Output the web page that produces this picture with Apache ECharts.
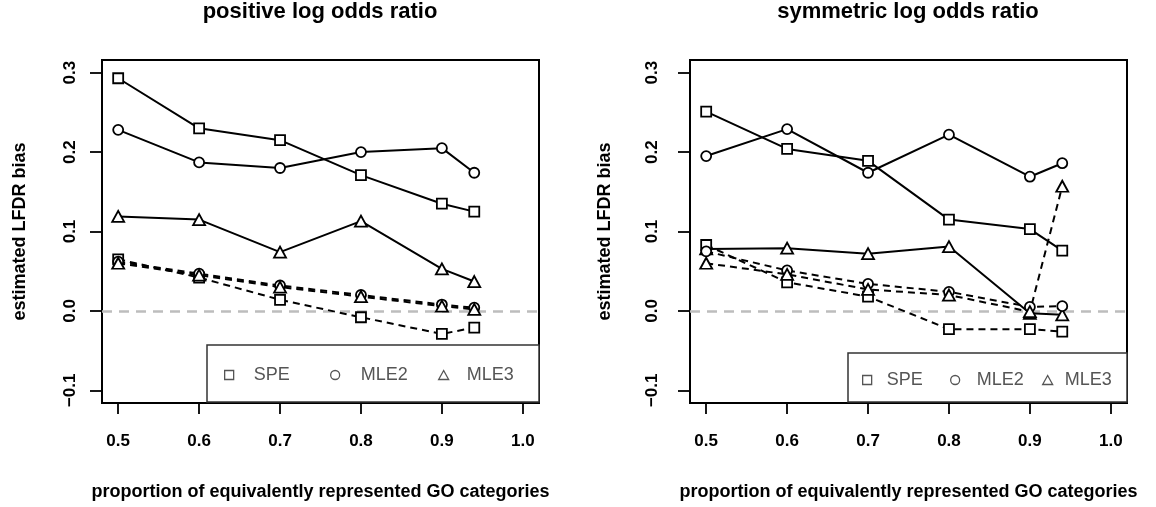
<!DOCTYPE html>
<html>
<head>
<meta charset="utf-8">
<script src="https://cdn.jsdelivr.net/npm/echarts@6/dist/echarts.min.js"></script>
<style>
html,body{margin:0;padding:0;background:#fff;}
#chart{width:1156px;height:507px;}
</style>
</head>
<body>
<div id="chart"></div>
<script>
// ---- data ----
const xValues = [0.5, 0.6, 0.7, 0.8, 0.9, 0.94];
const xTicks = [0.5, 0.6, 0.7, 0.8, 0.9, 1.0];
const yTicks = [-0.1, 0.0, 0.1, 0.2, 0.3];
const refLine = [0];
const seriesNames = ['SPE', 'MLE2', 'MLE3'];
const panelTitles = ['positive log odds ratio', 'symmetric log odds ratio'];
const xTitle = 'proportion of equivalently represented GO categories';
const yTitle = 'estimated LFDR bias';

// left panel: positive log odds ratio
const posSPE_solid  = [0.293, 0.230, 0.215, 0.171, 0.135, 0.125];
const posMLE2_solid = [0.228, 0.187, 0.180, 0.200, 0.205, 0.174];
const posMLE3_solid = [0.119, 0.115, 0.074, 0.113, 0.053, 0.037];
const posSPE_dash   = [0.065, 0.042, 0.014, -0.008, -0.029, -0.021];
const posMLE2_dash  = [0.062, 0.047, 0.032, 0.020, 0.008, 0.004];
const posMLE3_dash  = [0.060, 0.045, 0.030, 0.018, 0.006, 0.002];

// right panel: symmetric log odds ratio
const symSPE_solid  = [0.251, 0.204, 0.189, 0.115, 0.103, 0.076];
const symMLE2_solid = [0.195, 0.229, 0.174, 0.222, 0.169, 0.186];
const symMLE3_solid = [0.078, 0.079, 0.072, 0.081, -0.003, -0.005];
const symSPE_dash   = [0.083, 0.036, 0.018, -0.023, -0.023, -0.026];
const symMLE2_dash  = [0.075, 0.051, 0.034, 0.024, 0.005, 0.006];
const symMLE3_dash  = [0.060, 0.046, 0.027, 0.020, -0.001, 0.157];

// ---- styling / building ----
const FONT = 'Liberation Sans';
const symbolFor = { SPE: 'rect', MLE2: 'circle', MLE3: 'triangle' };
const symbolSizeFor = { SPE: 10, MLE2: 10, MLE3: [12, 11] };

function pairs(ys) { return xValues.map((x, i) => [x, ys[i]]); }

function makeSeries(name, ys, dashed, idx, withRef) {
  const s = {
    name: name,
    type: 'line',
    xAxisIndex: idx,
    yAxisIndex: idx,
    data: pairs(ys),
    symbol: symbolFor[name],
    symbolSize: symbolSizeFor[name],
    showAllSymbol: true,
    lineStyle: { color: '#000', width: 2, type: dashed ? [7, 5] : 'solid' },
    itemStyle: { color: '#fff', borderColor: '#000', borderWidth: 1.8 },
    emphasis: { disabled: true },
    animation: false,
    z: 3
  };
  if (withRef) {
    s.markLine = {
      silent: true,
      symbol: ['none', 'none'],
      label: { show: false },
      lineStyle: { color: '#bdbdbd', width: 2.5, type: [10, 7] },
      data: refLine.map(v => ({ yAxis: v })),
      z: 2
    };
  }
  return s;
}

const panels = [
  { solid: [posSPE_solid, posMLE2_solid, posMLE3_solid], dash: [posSPE_dash, posMLE2_dash, posMLE3_dash] },
  { solid: [symSPE_solid, symMLE2_solid, symMLE3_solid], dash: [symSPE_dash, symMLE2_dash, symMLE3_dash] }
];

const series = [];
panels.forEach((p, idx) => {
  seriesNames.forEach((n, k) => series.push(makeSeries(n, p.solid[k], false, idx, k === 0)));
  seriesNames.forEach((n, k) => series.push(makeSeries(n, p.dash[k], true, idx, false)));
});

const gridLeft = [102, 690];
const gridTop = 60, gridW = 437, gridH = 343;
const yLabelMargin = [23, 29];
const yNameGap = [73, 76];

function fmt(v) { return (v < 0 ? '\u2212' : '') + Math.abs(v).toFixed(1); }

const grids = gridLeft.map(l => ({
  left: l, top: gridTop, width: gridW, height: gridH,
  show: true, borderColor: '#000', borderWidth: 2, backgroundColor: 'transparent'
}));

const xAxes = gridLeft.map((l, i) => ({
  type: 'value', gridIndex: i, min: 0.48, max: 1.02, position: 'bottom',
  splitLine: { show: false },
  axisLine: { show: false, onZero: false },
  axisTick: { show: true, length: 11, customValues: xTicks, lineStyle: { color: '#000', width: 1.8 } },
  axisLabel: { customValues: xTicks, formatter: fmt, margin: 30, fontFamily: FONT, fontSize: 17, fontWeight: 'bold', color: '#000' },
  name: xTitle, nameLocation: 'middle', nameGap: 80,
  nameTextStyle: { fontFamily: FONT, fontSize: 18, fontWeight: 'bold', color: '#000' }
}));

const yAxes = gridLeft.map((l, i) => ({
  type: 'value', gridIndex: i, min: -0.116, max: 0.316, position: 'left',
  splitLine: { show: false },
  axisLine: { show: false, onZero: false },
  axisTick: { show: true, length: 12, customValues: yTicks, lineStyle: { color: '#000', width: 1.8 } },
  axisLabel: { customValues: yTicks, formatter: fmt, rotate: 90, margin: yLabelMargin[i], fontFamily: FONT, fontSize: 17, fontWeight: 'bold', color: '#000' },
  name: yTitle, nameLocation: 'middle', nameGap: yNameGap[i],
  nameTextStyle: { fontFamily: FONT, fontSize: 18, fontWeight: 'bold', color: '#000' }
}));

// legends (one component per entry so positions match)
const legendSpec = [
  { name: 'SPE',  left: 224,  top: 366, pad: 15 },
  { name: 'MLE2', left: 330,  top: 366, pad: 16 },
  { name: 'MLE3', left: 438,  top: 366, pad: 13 },
  { name: 'SPE',  left: 862,  top: 371, pad: 10 },
  { name: 'MLE2', left: 950,  top: 371, pad: 12 },
  { name: 'MLE3', left: 1042, top: 371, pad: 7 }
];
const legends = legendSpec.map(s => ({
  show: true,
  left: s.left, top: s.top, padding: 0, orient: 'horizontal',
  selectedMode: false,
  itemWidth: s.name === 'MLE3' ? 10 : 9,
  itemHeight: 9,
  z: 20,
  data: [{
    name: s.name,
    icon: symbolFor[s.name],
    itemStyle: { color: '#fff', borderColor: '#555', borderWidth: 1.3 }
  }],
  textStyle: { fontFamily: FONT, fontSize: 18, color: '#555', lineHeight: 18, padding: [0, 0, 0, s.pad] }
}));

const option = {
  animation: false,
  backgroundColor: '#fff',
  grid: grids,
  xAxis: xAxes,
  yAxis: yAxes,
  legend: legends,
  series: series,
  graphic: [
    { type: 'text', x: 320, y: 12, z: 10,
      style: { text: panelTitles[0], x: 0, y: 0, align: 'center', verticalAlign: 'middle',
               font: 'bold 22px "' + FONT + '"', fill: '#000' } },
    { type: 'text', x: 908, y: 12, z: 10,
      style: { text: panelTitles[1], x: 0, y: 0, align: 'center', verticalAlign: 'middle',
               font: 'bold 22px "' + FONT + '"', fill: '#000' } },
    { type: 'rect', shape: { x: 207, y: 345, width: 332, height: 57 }, z: 15,
      style: { fill: '#fff', stroke: '#333', lineWidth: 1.5 } },
    { type: 'rect', shape: { x: 848, y: 353, width: 279, height: 49 }, z: 15,
      style: { fill: '#fff', stroke: '#333', lineWidth: 1.5 } }
  ]
};

const chart = echarts.init(document.getElementById('chart'), null, { renderer: 'canvas' });
chart.setOption(option);
</script>
</body>
</html>
